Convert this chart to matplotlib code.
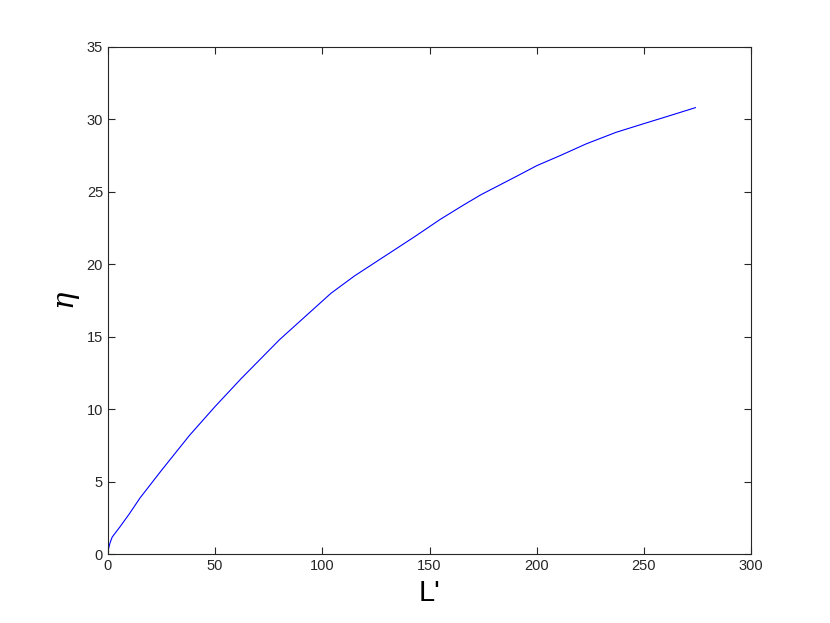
import matplotlib
matplotlib.use("Agg")
import matplotlib.pyplot as plt

# values
l_prime = [0, 0.3, 1, 2, 5.6, 10, 15, 25, 38, 50, 62, 80, 104, 115, 143, 155,
           166, 174, 191, 200, 211, 223, 237, 250, 261, 274]
eta = [0, 0.4, 0.8, 1.2, 1.9, 2.8, 3.9, 5.8, 8.2, 10.2, 12.1, 14.8, 18.0, 19.2,
       21.9, 23.1, 24.1, 24.8, 26.1, 26.8, 27.5, 28.3, 29.1, 29.7, 30.2, 30.8]

x_ticks = [0, 50, 100, 150, 200, 250, 300]
y_ticks = [0, 5, 10, 15, 20, 25, 30, 35]

plt.rcParams['font.family'] = ['Liberation Sans', 'DejaVu Sans']
plt.rcParams['mathtext.fontset'] = 'dejavuserif'

fig = plt.figure(figsize=(8.3, 6.23), dpi=100)
ax = fig.add_axes([0.13, 0.11, 0.775, 0.815])
ax.plot(l_prime, eta, color='#0000ff', linewidth=0.8)

ax.set_xlim(0, 300)
ax.set_ylim(0, 35)
ax.set_xticks(x_ticks)
ax.set_yticks(y_ticks)

axis_color = '#262626'
for spine in ax.spines.values():
    spine.set_color(axis_color)
    spine.set_linewidth(0.8)
ax.tick_params(direction='in', length=5, width=0.8, colors=axis_color,
               labelsize=10.5, top=True, right=True, labeltop=False, labelright=False)
for lbl in ax.get_xticklabels() + ax.get_yticklabels():
    lbl.set_color(axis_color)

ax.set_xlabel("L'", fontsize=21, color='black', labelpad=4)
ax.set_ylabel(r'$\eta$', fontsize=21, color='black', labelpad=3)

fig.savefig('out.png', dpi=100)
